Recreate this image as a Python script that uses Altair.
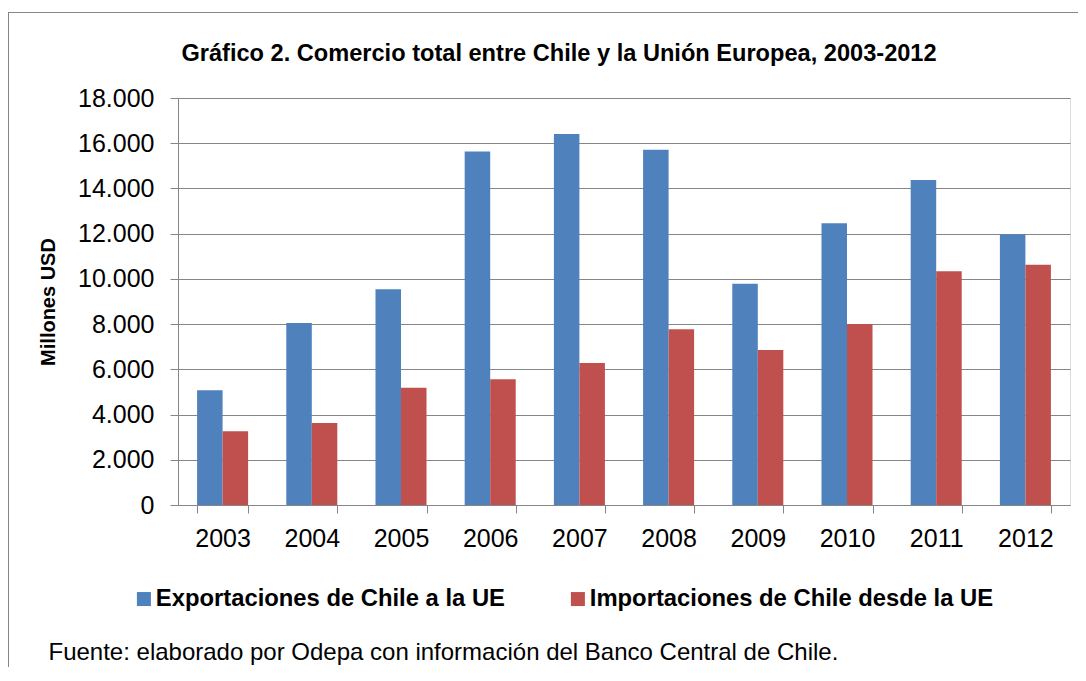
import altair as alt
import pandas as pd

years = ["2003", "2004", "2005", "2006", "2007", "2008", "2009", "2010", "2011", "2012"]
exportaciones = [5070, 8050, 9540, 15630, 16410, 15710, 9790, 12460, 14370, 11970]
importaciones = [3260, 3630, 5190, 5560, 6280, 7770, 6860, 8010, 10340, 10630]
series = ["Exportaciones de Chile a la UE", "Importaciones de Chile desde la UE"]
colors = ["#4F81BD", "#C0504D"]
y_ticks = [0, 2000, 4000, 6000, 8000, 10000, 12000, 14000, 16000, 18000]

title_text = "Gráfico 2. Comercio total entre Chile y la Unión Europea, 2003-2012"
y_title = "Millones USD"
source_text = "Fuente: elaborado por Odepa con información del Banco Central de Chile."

rows = []
for i, yr in enumerate(years):
    rows.append({"year": yr, "serie": series[0], "value": exportaciones[i]})
    rows.append({"year": yr, "serie": series[1], "value": importaciones[i]})
df = pd.DataFrame(rows)

FONT = "Liberation Sans"
GRAY = "#868686"

bars = alt.Chart(df).mark_bar().encode(
    x=alt.X(
        "year:N",
        sort=years,
        scale=alt.Scale(paddingInner=0.428, paddingOuter=0.214),
        axis=alt.Axis(
            title=source_text,
            titleX=-130,
            titleY=147,
            titleAlign="left",
            titleAnchor="start",
            titleBaseline="middle",
            titleFont=FONT,
            titleFontSize=24,
            titleFontWeight="normal",
            titleColor="black",
            labelAngle=0,
            labelFont=FONT,
            labelFontSize=25,
            labelColor="black",
            labelPadding=13,
            tickBand="extent",
            tickSize=8,
            tickColor=GRAY,
            domainColor=GRAY,
            grid=False,
        ),
    ),
    xOffset=alt.XOffset("serie:N", sort=series, scale=alt.Scale(paddingInner=0, paddingOuter=0)),
    y=alt.Y(
        "value:Q",
        scale=alt.Scale(domain=[0, 18000], nice=False),
        axis=alt.Axis(
            values=y_ticks,
            title=y_title,
            titleX=-130,
            titleY=203.5,
            titleAlign="center",
            titleBaseline="middle",
            titleFont=FONT,
            titleFontSize=20,
            titleFontWeight="bold",
            titleColor="black",
            labelFont=FONT,
            labelFontSize=25,
            labelColor="black",
            labelPadding=16,
            labelExpr="replace(format(datum.value, ','), ',', '.')",
            tickSize=8,
            tickColor=GRAY,
            domainColor=GRAY,
            grid=True,
            gridColor=GRAY,
            gridWidth=1,
        ),
    ),
    color=alt.Color(
        "serie:N",
        sort=series,
        scale=alt.Scale(domain=series, range=colors),
        legend=alt.Legend(
            title=None,
            orient="none",
            legendX=-46,
            legendY=489,
            direction="horizontal",
            symbolType="square",
            symbolSize=196,
            symbolStrokeWidth=0,
            symbolOpacity=1,
            labelFont=FONT,
            labelFontSize=23.8,
            labelFontWeight="bold",
            labelColor="black",
            labelOffset=0,
            columnPadding=61,
            labelLimit=600,
        ),
    ),
)

border_df = pd.DataFrame({"k": [0]})
border_top = alt.Chart(border_df).mark_rule(color=GRAY, strokeWidth=1).encode(
    x=alt.value(-170), x2=alt.value(900), y=alt.value(-85.5)
)
border_left = alt.Chart(border_df).mark_rule(color=GRAY, strokeWidth=1).encode(
    x=alt.value(-169.5), y=alt.value(-86), y2=alt.value(580)
)

chart = alt.layer(border_top, border_left, bars).properties(
    width=892,
    height=407,
    title=alt.TitleParams(
        text=title_text,
        font=FONT,
        fontSize=23.6,
        fontWeight="bold",
        color="black",
        anchor="middle",
        baseline="alphabetic",
        dx=-65,
        offset=-73,
    ),
    autosize=alt.AutoSizeParams(type="none"),
    padding={"left": 170, "top": 90, "right": 8, "bottom": 162},
).configure_view(stroke=None).configure(background="white")

chart.save("out.html", embed_options={"renderer": "svg", "actions": False})
